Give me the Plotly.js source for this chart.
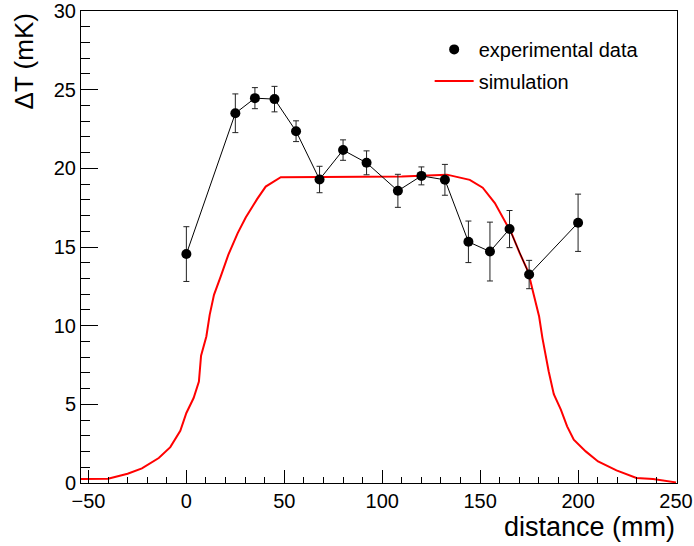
<!DOCTYPE html>
<html>
<head>
<meta charset="utf-8">
<script src="https://cdn.plot.ly/plotly-3.0.1.min.js"></script>
<style>
html,body{margin:0;padding:0;background:#fff;}
#chart{width:694px;height:546px;}
</style>
</head>
<body>
<div id="chart"></div>
<script>
// Experimental data
const expX   = [0, 25, 35, 45, 56, 68, 80, 92, 108, 120, 132, 144, 155, 165, 175, 200];
const expY   = [14.55, 23.5, 24.46, 24.4, 22.36, 19.29, 21.16, 20.35, 18.57, 19.52, 19.27, 15.33, 14.71, 16.14, 13.25, 16.54];
const expErr = [1.74, 1.23, 0.67, 0.81, 0.66, 0.84, 0.65, 0.76, 1.05, 0.57, 0.98, 1.32, 1.87, 1.18, 0.9, 1.82];

// Simulation curve
const simX = [-54, -40, -30, -22.7, -14.1, -8.2, -3.1, 0, 3.7, 6.4, 7.5, 10.2, 11.9, 14.1, 17.6, 21.4, 26.2, 30.3, 36.1, 40.5, 48.2, 54.8, 70, 90, 110, 120, 133, 144.7, 151.3, 157.5, 161.7, 166, 170.2, 174.5, 177.3, 180.1, 181.8, 185, 187.6, 191.2, 194.4, 197.8, 203.9, 210.2, 219.6, 229.8, 238.3, 250];
const simY = [0.25, 0.27, 0.59, 0.93, 1.59, 2.28, 3.32, 4.45, 5.4, 6.45, 8.09, 9.31, 10.69, 11.96, 13.15, 14.5, 15.88, 16.87, 18.04, 18.84, 19.44, 19.45, 19.45, 19.46, 19.48, 19.55, 19.6, 19.27, 18.77, 17.79, 16.84, 15.88, 14.61, 13.44, 12.0, 10.58, 9.21, 7.09, 5.65, 4.66, 3.6, 2.75, 2.01, 1.37, 0.8, 0.32, 0.25, 0.04];

const xTitle = 'distance (mm)';
const yTitle = 'ΔT (mK)';
const names = ['experimental data', 'simulation'];

const FONT = '"Liberation Sans", Arial, Helvetica, sans-serif';

const traces = [
  {
    x: simX, y: simY, type: 'scatter', mode: 'lines', name: names[1],
    line: {color: '#ff0000', width: 2},
    legend: 'legend2'
  },
  {
    x: expX, y: expY, type: 'scatter', mode: 'lines', name: names[0],
    line: {color: '#000000', width: 1},
    showlegend: false
  },
  {
    x: expX, y: expY, type: 'scatter', mode: 'markers', name: names[0],
    marker: {color: '#000000', size: 10, symbol: 'circle'},
    error_y: {type: 'data', array: expErr, visible: true, color: '#222', thickness: 1, width: 3},
    legend: 'legend'
  }
];

const layout = {
  width: 694, height: 546,
  margin: {l: 81, r: 17, t: 11, b: 63},
  paper_bgcolor: '#fff', plot_bgcolor: '#fff',
  font: {family: FONT, color: '#000', size: 20},
  showlegend: true,
  legend: {x: 0.585, y: 0.96, xanchor: 'left', yanchor: 'top', bgcolor: 'rgba(0,0,0,0)',
           font: {size: 20, family: FONT}, itemwidth: 39},
  legend2: {x: 0.585, y: 0.893, xanchor: 'left', yanchor: 'top', bgcolor: 'rgba(0,0,0,0)',
            font: {size: 20, family: FONT}, itemwidth: 39},
  xaxis: {
    range: [-53.8, 250.5], tick0: 0, dtick: 50,
    ticks: 'inside', ticklen: 13, tickwidth: 1, tickcolor: '#000',
    minor: {dtick: 10, ticks: 'inside', ticklen: 6, tickwidth: 1, tickcolor: '#000'},
    showline: true, linecolor: '#000', linewidth: 1, mirror: true,
    showgrid: false, zeroline: false,
    tickfont: {size: 20, family: FONT}
  },
  yaxis: {
    range: [0, 30], tick0: 0, dtick: 5,
    ticks: 'inside', ticklen: 17, tickwidth: 1, tickcolor: '#000',
    minor: {dtick: 1, ticks: 'inside', ticklen: 9, tickwidth: 1, tickcolor: '#000'},
    showline: true, linecolor: '#000', linewidth: 1, mirror: true,
    showgrid: false, zeroline: false,
    tickfont: {size: 20, family: FONT}
  },
  annotations: [
    {text: xTitle, xref: 'paper', yref: 'paper', x: 1.0, y: -0.058, xanchor: 'right', yanchor: 'top',
     showarrow: false, font: {size: 27, family: FONT}},
    {text: yTitle, xref: 'paper', yref: 'paper', x: -0.095, y: 1.0, xanchor: 'center', yanchor: 'top',
     textangle: -90, showarrow: false, font: {size: 26, family: FONT}}
  ]
};

Plotly.newPlot('chart', traces, layout, {displayModeBar: false, staticPlot: true});
</script>
</body>
</html>
